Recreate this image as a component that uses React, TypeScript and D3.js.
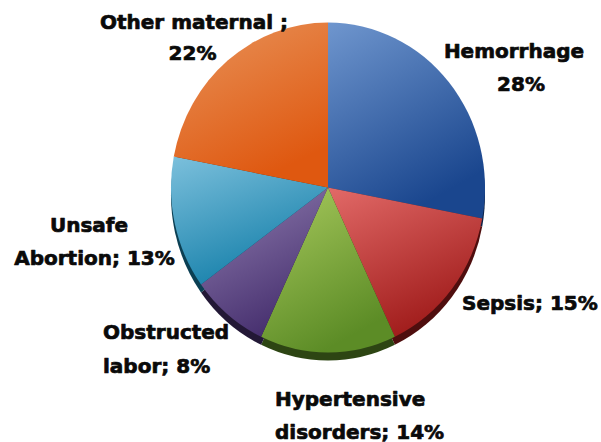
import React from "react";
import * as d3 from "d3";

// Causes of maternal death, share of all deaths (%)
const causes = [
  "Hemorrhage",
  "Sepsis",
  "Hypertensive disorders",
  "Obstructed labor",
  "Unsafe Abortion",
  "Other maternal",
];
const shares = [28, 15, 14, 8, 13, 22];

// Label wording: heading lines, then a final line that ends with the value
const labelHeads = [
  ["Hemorrhage"],
  [],
  ["Hypertensive"],
  ["Obstructed"],
  ["Unsafe"],
  ["Other maternal ;"],
];
const labelTails = ["", "Sepsis; ", "disorders; ", "labor; ", "Abortion; ", ""];

// Slice colours: light (upper) and deep (lower) stops of each gradient
const lightColors = ["#6f96ce", "#e26a68", "#a9ca5e", "#9280b2", "#7cc0dc", "#e8935a"];
const deepColors = ["#1a468e", "#a11d1c", "#5c8c26", "#47306f", "#1680aa", "#df5810"];

const WIDTH = 601;
const HEIGHT = 442;
const CX = 328;
const CY = 187.5;
const RX = 157;
const RY = 165;
const DEPTH = 8;

// Label placement: text anchor, x per line and baseline per line
const labelLayout: { anchor: "start" | "middle"; xs: number[]; ys: number[] }[] = [
  { anchor: "middle", xs: [514, 521], ys: [57.5, 91] },
  { anchor: "start", xs: [462], ys: [309.5] },
  { anchor: "start", xs: [275, 275], ys: [406, 438.5] },
  { anchor: "start", xs: [103, 103], ys: [339, 372.5] },
  { anchor: "middle", xs: [89, 94.5], ys: [231.5, 264.5] },
  { anchor: "middle", xs: [194, 192.5], ys: [28.5, 59.5] },
];

export default function App() {
  const pie = d3
    .pie<number>()
    .sort(null)
    .startAngle(0)
    .endAngle(2 * Math.PI)
    .value((d) => d);
  const arcs = pie(shares);
  const arc = d3.arc<d3.PieArcDatum<number>>().innerRadius(0).outerRadius(RX);
  const sy = RY / RX;

  return (
    <svg
      width={WIDTH}
      height={HEIGHT}
      style={{ position: "absolute", left: 0, top: 0, background: "#fff" }}
    >
      <defs>
        {causes.map((c, i) => (
          <linearGradient key={c} id={`grad-${i}`} x1="0" y1="0" x2="0.45" y2="1">
            <stop offset="0%" stopColor={lightColors[i]} />
            <stop offset="100%" stopColor={deepColors[i]} />
          </linearGradient>
        ))}
      </defs>

      {/* side of the disc, seen below the top face */}
      <g transform={`translate(${CX},${CY + DEPTH}) scale(1,${sy})`}>
        {arcs.map((a, i) => (
          <path
            key={causes[i]}
            d={arc(a) ?? ""}
            fill={d3.color(deepColors[i])!.darker(2).formatHex()}
          />
        ))}
      </g>

      {/* top face */}
      <g transform={`translate(${CX},${CY}) scale(1,${sy})`}>
        {arcs.map((a, i) => (
          <path key={causes[i]} d={arc(a) ?? ""} fill={`url(#grad-${i})`} />
        ))}
      </g>

      {/* labels */}
      <g
        fontFamily="'DejaVu Sans', sans-serif"
        fontWeight="bold"
        fontSize={20}
        fill="#0a0a0a"
        stroke="#0a0a0a"
        strokeWidth={0.7}
        strokeLinejoin="round"
      >
        {causes.map((c, i) => {
          const lines = [...labelHeads[i], `${labelTails[i]}${shares[i]}%`];
          const lay = labelLayout[i];
          return (
            <text key={c} textAnchor={lay.anchor}>
              {lines.map((ln, j) => (
                <tspan key={j} x={lay.xs[j]} y={lay.ys[j]}>
                  {ln}
                </tspan>
              ))}
            </text>
          );
        })}
      </g>
    </svg>
  );
}
